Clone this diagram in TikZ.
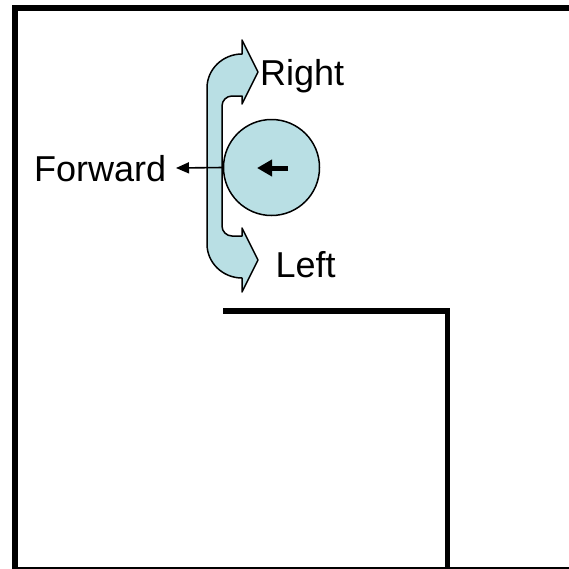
\documentclass[tikz,border=0pt]{standalone}
\usepackage{fontspec}
\setmainfont{Liberation Sans}
\usetikzlibrary{arrows.meta}
\definecolor{bandfill}{HTML}{B9DFE4}
\tikzset{
  wall/.style={line width=6pt, line join=miter},
  shapeline/.style={draw=black, line width=1.5pt, fill=bandfill, line join=round},
  lbl/.style={inner sep=0pt, anchor=base west, font=\fontsize{36}{43}\selectfont},
}
\begin{document}
\begin{tikzpicture}[x=1pt,y=-1pt]
\useasboundingbox (0,0) rectangle (569,568);
\fill[white] (0,0) rectangle (569,568);
% outer walls
\draw[wall] (15,7.5) rectangle (580,569.5);
% inner wall
\draw[line width=5.5pt, line join=miter] (223,311) -- (447.5,311) -- (447.5,580);
% curved double arrow (band)
\path[shapeline] (258,72) -- (242,40) -- (242,54)
  .. controls (223,54) and (207,69) .. (207,88)
  -- (207,244)
  .. controls (207,263) and (223,278) .. (242,278)
  -- (242,292) -- (258,260) -- (242,228) -- (242,236) -- (232,236)
  .. controls (226.5,236) and (222,231.5) .. (222,226)
  -- (222,106)
  .. controls (222,100.5) and (226.5,96) .. (232,96)
  -- (242,96) -- (242,104) -- cycle;
% robot
\node[shapeline, circle, minimum size=96pt, inner sep=0pt] (robot) at (271.5,167.5) {};
\coordinate (headstart) at (288,168);
\coordinate (headtip) at (257,168);
\draw[line width=5pt, -{Triangle[length=15pt,width=16pt]}] (headstart) -- (headtip);
% forward arrow
\coordinate (fwdtip) at (176,168);
\draw[line width=1.6pt, -{Triangle[length=13pt,width=11pt]}] (robot.west) -- (fwdtip);
% labels
\node[lbl] (forward) at (34,181) {Forward};
\node[lbl] (right) at (260,85) {Right};
\node[lbl] (left) at (275.4,277) {Left};
\end{tikzpicture}
\end{document}
